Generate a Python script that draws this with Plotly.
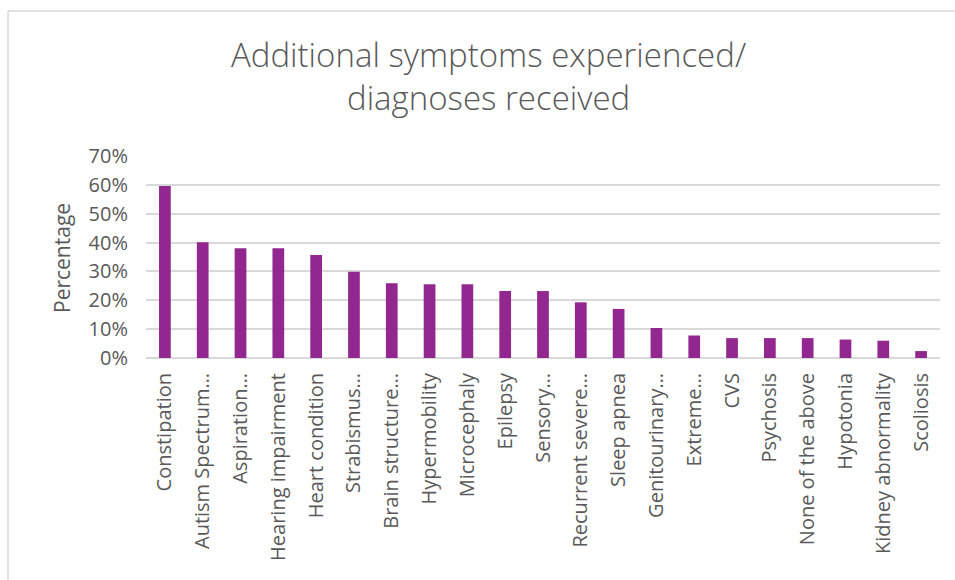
import plotly.graph_objects as go

categories = ["Constipation", "Autism Spectrum…", "Aspiration…", "Hearing impairment",
              "Heart condition", "Strabismus…", "Brain structure…", "Hypermobility",
              "Microcephaly", "Epilepsy", "Sensory…", "Recurrent severe…", "Sleep apnea",
              "Genitourinary…", "Extreme…", "CVS", "Psychosis", "None of the above",
              "Hypotonia", "Kidney abnormality", "Scoliosis"]
values = [0.596, 0.401, 0.380, 0.380, 0.357, 0.299, 0.259, 0.256, 0.256, 0.232, 0.232,
          0.193, 0.170, 0.104, 0.078, 0.069, 0.069, 0.069, 0.064, 0.060, 0.024]
y_ticks = [0, 0.1, 0.2, 0.3, 0.4, 0.5, 0.6, 0.7]
title_lines = ["Additional symptoms experienced/", "diagnoses received"]

W, H = 955, 580
L, R, T, B = 146, 15, 156, 222
pw = W - L - R
ph = H - T - B

FONT = "'Open Sans', Lato, sans-serif"
GREY = "#595959"
BORDER = "#D9D9D9"


def px_x(x):
    return (x - L) / pw


def px_y(y):
    return (H - B - y) / ph


fig = go.Figure(go.Bar(x=categories, y=values, marker=dict(color="#92278F", line=dict(width=0)),
                       hoverinfo="x+y"))

fig.update_layout(
    width=W, height=H,
    margin=dict(l=L, r=R, t=T, b=B, autoexpand=False),
    paper_bgcolor="white", plot_bgcolor="white",
    bargap=0.69,
    showlegend=False,
    font=dict(family=FONT, color=GREY),
)
fig.update_xaxes(showgrid=False, showline=False, zeroline=False,
                 tickangle=-90, tickfont=dict(family=FONT, size=20, color=GREY),
                 ticklabelstandoff=10, fixedrange=True)
fig.update_yaxes(range=[0, 0.7], tickvals=y_ticks, tickformat=".0%",
                 showgrid=True, gridcolor=BORDER, gridwidth=1.5,
                 zeroline=True, zerolinecolor=BORDER, zerolinewidth=1.5,
                 showline=False, tickfont=dict(family=FONT, size=20, color=GREY),
                 ticklabelstandoff=17, fixedrange=True)

for line, ymid in zip(title_lines, [54, 97]):
    fig.add_annotation(text=line, xref="paper", yref="paper",
                       x=px_x(488), y=px_y(ymid), xanchor="center", yanchor="middle",
                       showarrow=False, font=dict(family=FONT, size=33, color=GREY, weight=300))

fig.add_annotation(text="Percentage", textangle=-90, xref="paper", yref="paper",
                   x=px_x(62), y=px_y(258), xanchor="center", yanchor="middle",
                   showarrow=False, font=dict(family=FONT, size=21, color=GREY))

# chart-area border: only the top and left edges are visible in the reference
fig.add_shape(type="line", xref="paper", yref="paper",
              x0=px_x(8), x1=px_x(W + 5), y0=px_y(11), y1=px_y(11),
              line=dict(color=BORDER, width=1.5), layer="below")
fig.add_shape(type="line", xref="paper", yref="paper",
              x0=px_x(8), x1=px_x(8), y0=px_y(11), y1=px_y(H + 5),
              line=dict(color=BORDER, width=1.5), layer="below")

fig.write_html("out.html",
               config={"displayModeBar": False},
               post_script="document.body.style.margin='0';"
                           "document.body.style.overflow='hidden';")
